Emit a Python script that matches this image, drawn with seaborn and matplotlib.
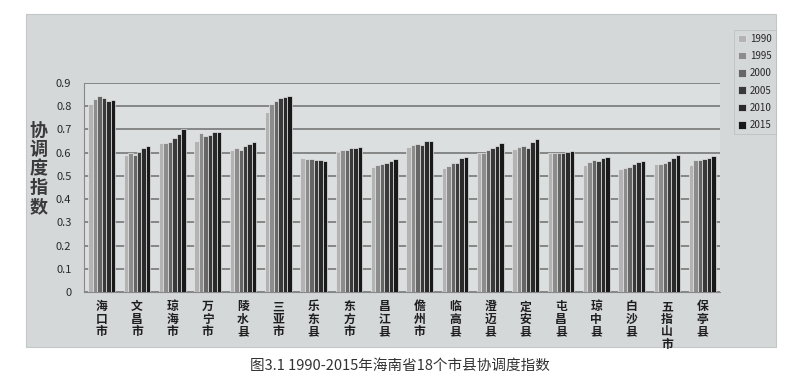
import matplotlib
matplotlib.use("Agg")
import matplotlib.pyplot as plt
import seaborn as sns
import pandas as pd
from matplotlib.patches import Rectangle

# counties / cities
cities = ["海口市", "文昌市", "琼海市", "万宁市", "陵水县", "三亚市", "乐东县", "东方市", "昌江县",
          "儋州市", "临高县", "澄迈县", "定安县", "屯昌县", "琼中县", "白沙县", "五指山市", "保亭县"]
years = ["1990", "1995", "2000", "2005", "2010", "2015"]

v1990 = [0.811, 0.588, 0.643, 0.650, 0.610, 0.776, 0.578, 0.603, 0.538,
         0.624, 0.535, 0.597, 0.617, 0.597, 0.548, 0.528, 0.551, 0.548]
v1995 = [0.832, 0.597, 0.643, 0.683, 0.618, 0.809, 0.574, 0.610, 0.545,
         0.631, 0.541, 0.600, 0.624, 0.597, 0.560, 0.534, 0.551, 0.567]
v2000 = [0.844, 0.591, 0.647, 0.671, 0.613, 0.822, 0.571, 0.613, 0.549,
         0.636, 0.557, 0.610, 0.627, 0.597, 0.567, 0.537, 0.555, 0.567]
v2005 = [0.835, 0.603, 0.664, 0.677, 0.630, 0.834, 0.567, 0.620, 0.557,
         0.633, 0.557, 0.618, 0.621, 0.597, 0.565, 0.551, 0.564, 0.572]
v2010 = [0.822, 0.620, 0.681, 0.687, 0.638, 0.839, 0.567, 0.620, 0.565,
         0.650, 0.578, 0.627, 0.644, 0.604, 0.575, 0.558, 0.578, 0.578]
v2015 = [0.825, 0.627, 0.700, 0.690, 0.644, 0.845, 0.562, 0.624, 0.571,
         0.650, 0.581, 0.640, 0.660, 0.608, 0.582, 0.562, 0.590, 0.585]

colors = ["#b3b3b3", "#8c8c8c", "#666666", "#3a3a3a", "#2a2a2a", "#191919"]

rows = []
for yr, vals in zip(years, [v1990, v1995, v2000, v2005, v2010, v2015]):
    for c, v in zip(cities, vals):
        rows.append({"city": c, "year": yr, "value": v})
df = pd.DataFrame(rows)

sns.set_style("white")
plt.rcParams["font.family"] = ["Noto Sans CJK SC", "DejaVu Sans"]

fig = plt.figure(figsize=(8, 3.84), dpi=100)
panel = "#d5d8d9"
fig.patches.append(Rectangle((0.0325, 0.096), 0.9375, 0.8675, transform=fig.transFigure,
                             facecolor=panel, edgecolor="#c4c7c8", lw=0.8, zorder=-5))

ax = fig.add_axes([0.105, 0.2396, 0.795, 0.5444])
ax.set_zorder(2)
ax.set_facecolor("#dcdfdf")
sns.barplot(data=df, x="city", y="value", hue="year", palette=colors, width=0.76,
            edgecolor="#e6e6e6", linewidth=0.5, ax=ax, zorder=3)

ax.set_ylim(0, 0.9)
ax.set_yticks([i / 10 for i in range(10)])
ax.set_yticklabels(["0"] + [f"{i / 10:.1f}" for i in range(1, 10)], fontsize=8, color="#2a2a2a",
                   fontweight="medium")
ax.yaxis.grid(True, color="#6e6e6e", lw=1.1, zorder=0)
ax.set_axisbelow(True)
ax.set_xlim(-0.5, len(cities) - 0.5)
ax.set_xticks(range(len(cities)))
ax.set_xticklabels(["\n".join(c) for c in cities], fontsize=8.5, fontweight="bold",
                   color="#1e1e1e", linespacing=0.95, va="top")
ax.tick_params(axis="x", length=0, pad=6)
ax.tick_params(axis="y", length=3, color="#888888", pad=6)
for s in ["top", "right"]:
    ax.spines[s].set_visible(False)
ax.spines["left"].set_color("#888888")
ax.spines["bottom"].set_color("#888888")
ax.set_xlabel("")
ax.set_ylabel("")

fig.text(0.048, 0.56, "\n".join("协调度指数"), fontsize=13, color="#3a3a3a",
         ha="center", va="center", linespacing=1.0, fontweight="bold")

leg = ax.legend(loc="upper left", bbox_to_anchor=(0.912, 0.935), bbox_transform=fig.transFigure,
                frameon=True, fontsize=7, handlelength=0.8, handleheight=0.8,
                handletextpad=0.4, labelspacing=0.75, borderpad=0.4)
leg.get_frame().set_facecolor(panel)
leg.get_frame().set_edgecolor("#bbbbbb")
leg.get_frame().set_linewidth(0.6)
leg.get_frame().set_boxstyle("square", pad=0)

fig.text(0.5, 0.047, "图3.1 1990-2015年海南省18个市县协调度指数", fontsize=10.5,
         color="#333333", ha="center", va="center")

fig.savefig("out.png", dpi=100, facecolor="white")
